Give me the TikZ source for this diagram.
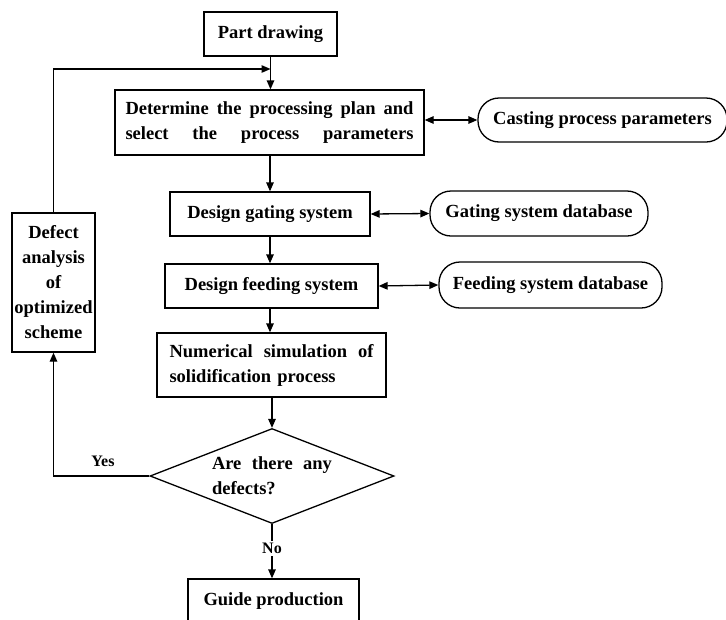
\documentclass[tikz,border=0pt]{standalone}
\usepackage{fontspec}
\setmainfont{Liberation Serif}
\usetikzlibrary{arrows.meta,shapes.geometric}
\begin{document}
\begin{tikzpicture}[x=1pt,y=-1pt,
  txt/.style={font=\bfseries\fontsize{18.5}{25}\selectfont},
  small/.style={font=\bfseries\fontsize{16}{18}\selectfont},
  box/.style={draw, line width=1.3pt, txt, inner sep=0pt, align=center},
  oval/.style={box, rounded corners=21pt},
  arr/.style={-{Triangle[length=9pt,width=7.5pt]}, line width=1.3pt},
  darr/.style={{Triangle[length=9pt,width=7.5pt]}-{Triangle[length=9pt,width=7.5pt]}, line width=1.3pt}]
\useasboundingbox (0,0) rectangle (726,619);
\clip (0,0) rectangle (726,619);

\node[box, minimum width=133pt, minimum height=44pt] (pd) at (270.5,34) {Part drawing};
\node[box, minimum width=309pt, minimum height=65pt] (det) at (269.5,122.5)
  {\makebox[288pt]{Determine\hfill the\hfill processing\hfill plan\hfill and}\\\makebox[288pt]{select\hfill the\hfill process\hfill parameters}};
\node[box, minimum width=200pt, minimum height=44pt] (gat) at (270,214) {Design gating system};
\node[box, minimum width=213pt, minimum height=44pt] (feed) at (271.5,286) {Design feeding system};
\node[box, minimum width=229pt, minimum height=64pt, text width=204pt, align=left] (num) at (271.5,365)
  {\makebox[204pt]{Numerical\hfill simulation\hfill of}\\solidification process};
\node[draw, diamond, line width=1.3pt, txt, inner sep=0pt, aspect=2.57, minimum width=244pt, minimum height=95pt,
  text width=120pt, align=left] (dia) at (272,476)
  {\makebox[120pt]{Are\hfill there\hfill any}\\defects?};
\node[box, minimum width=171pt, minimum height=44pt] (gp) at (273.5,601) {Guide production};
\node[box, minimum width=83pt, minimum height=139pt] (left) at (53.5,282.5)
  {Defect\\analysis\\of\\optimized\\scheme};

\node[oval, minimum width=249pt, minimum height=44pt] (cpp) at (602.5,120) {Casting process parameters};
\node[oval, minimum width=218pt, minimum height=45pt] (gsd) at (539,213.5) {Gating system database};
\node[oval, minimum width=223pt, minimum height=46pt] (fsd) at (550.5,285) {Feeding system database};

\coordinate (m) at (270.5,69);
\draw[arr] (pd.south) -- (det.north -| pd.south);
\draw[arr] (left.north) |- (m);
\draw[arr] (det.south -| gat.north) -- (gat.north);
\draw[arr] (gat.south) -- (feed.north -| gat.south);
\draw[arr] (feed.south -| gat.south) -- (num.north -| gat.south);
\draw[arr] (num.south -| dia.north) -- (dia.north);
\draw[arr] (dia.west) -| (left.south);
\node[small] (yes) at (103,461) {Yes};
\draw[arr] (dia.south) -- node[pos=0.45, fill=white, inner sep=2pt, small] (no) {No} (gp.north -| dia.south);

\draw[darr] (det.east |- cpp.west) -- (cpp.west);
\draw[darr] (gat.east) -- (gsd.west);
\draw[darr] (feed.east) -- (fsd.west);
\end{tikzpicture}
\end{document}
